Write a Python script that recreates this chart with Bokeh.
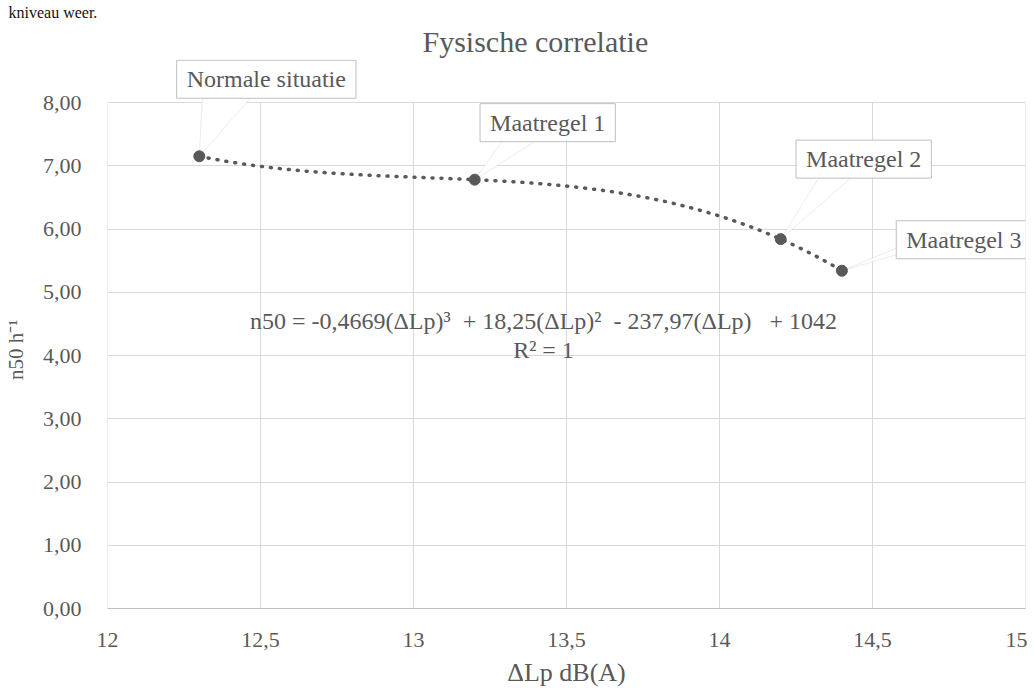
import numpy as np
from bokeh.plotting import figure
from bokeh.models import Range1d, FixedTicker, Label, PolyAnnotation, Title
from bokeh.embed import file_html
from bokeh.resources import INLINE

# ---------------- data ----------------
x_vals = [12.3, 13.2, 14.2, 14.4]
y_vals = [7.15, 6.78, 5.84, 5.34]
point_names = ["Normale situatie", "Maatregel 1", "Maatregel 2", "Maatregel 3"]

x_ticks = [12, 12.5, 13, 13.5, 14, 14.5, 15]
x_tick_labels = ["12", "12,5", "13", "13,5", "14", "14,5", "15"]
y_ticks = [0, 1, 2, 3, 4, 5, 6, 7, 8]
y_tick_labels = ["0,00", "1,00", "2,00", "3,00", "4,00", "5,00", "6,00", "7,00", "8,00"]

NB = "\u00a0"
title_text = "Fysische correlatie"
x_title = "ΔLp dB(A)"
y_title = "n50 h⁻¹"
equation_text = f"n50 = -0,4669(ΔLp)³{NB}{NB}+ 18,25(ΔLp)²{NB}{NB}- 237,97(ΔLp){NB}{NB}{NB}+ 1042"
r2_text = "R² = 1"
page_fragment = "kniveau weer."

# ---------------- styles / layout ----------------
FONT = "Liberation Serif"
GREY = "#595959"
GRID = "#d9d9d9"
X0, X1, Y0, Y1 = 12, 15, 0, 8
FW, FH_DATA = 918, 506          # pixels covered by x 12..15 and y 0..8
EXTRA_TOP = 43                  # frame room above the 8,00 line for callouts
PX_X = FW / (X1 - X0)
PX_Y = FH_DATA / (Y1 - Y0)
Y_TOP = Y1 + EXTRA_TOP / PX_Y
Y_LABEL_PAD = NB * 6            # keeps the rotated axis title centred on the 0..8 span

# callout box centre offsets (px, y downwards) and pointer base offsets
callout_center = [(67, -77), (73, -57), (83, -80), (122, -31)]
pointer_base = [((3, -58), (51, -58)), ((27, -38), (60, -38)),
                ((38, -61), (70, -61)), ((58, -24), (58, -17))]

p = figure(frame_width=FW, frame_height=FH_DATA + EXTRA_TOP,
           x_range=Range1d(X0, X1), y_range=Range1d(Y0, Y_TOP),
           output_backend="svg", toolbar_location=None, title=None,
           min_border_left=99, min_border_top=59, min_border_right=2, min_border_bottom=80,
           background_fill_color="white", border_fill_color="white")

# chart title (closest to the plot) and the cut-off document line above it
p.add_layout(Title(text=title_text, text_font=FONT, text_font_size="30px",
                   text_font_style="normal", text_color=GREY,
                   align="left", offset=315, standoff=4), "above")
p.add_layout(Title(text=page_fragment, text_font=FONT, text_font_size="16px",
                   text_font_style="normal", text_color="#111111",
                   align="left", offset=-99, standoff=0), "above")

p.outline_line_color = None
p.xgrid.grid_line_color = None
p.ygrid.grid_line_color = GRID
p.ygrid.ticker = FixedTicker(ticks=y_ticks)

# vertical gridlines limited to the 0..8 value area
p.segment(x0=x_ticks, y0=[Y0] * len(x_ticks), x1=x_ticks, y1=[Y1] * len(x_ticks),
          line_color=GRID, line_width=1)

p.xaxis.ticker = FixedTicker(ticks=x_ticks)
p.xaxis.major_label_overrides = dict(zip(x_ticks, x_tick_labels))
p.yaxis.ticker = FixedTicker(ticks=y_ticks)
p.yaxis.major_label_overrides = dict(zip(y_ticks, y_tick_labels))
p.yaxis.bounds = (Y0, Y1)

for ax in (p.xaxis[0], p.yaxis[0]):
    ax.major_tick_line_color = None
    ax.minor_tick_line_color = None
    ax.major_label_text_font = FONT
    ax.major_label_text_font_size = "22px"
    ax.major_label_text_color = GREY
    ax.axis_label_text_font = FONT
    ax.axis_label_text_font_style = "normal"
    ax.axis_label_text_color = GREY

p.xaxis.axis_label = x_title
p.yaxis.axis_label = y_title + Y_LABEL_PAD
p.xaxis.axis_label_text_font_size = "26px"
p.yaxis.axis_label_text_font_size = "21px"
p.xaxis.axis_line_color = "#bfbfbf"
p.yaxis.axis_line_color = None
p.xaxis.major_label_standoff = 18
p.xaxis.axis_label_standoff = 8
p.yaxis.major_label_standoff = 20
p.yaxis.axis_label_standoff = 12

# trendline: cubic fit through the points
coef = np.polyfit(x_vals, y_vals, 3)
xs_fit = np.linspace(min(x_vals), max(x_vals), 200)
p.line(xs_fit, np.polyval(coef, xs_fit), line_color=GREY, line_width=3.5,
       line_dash="1 8", line_cap="round")

# callout pointers
for xv, yv, (b1, b2) in zip(x_vals, y_vals, pointer_base):
    pxs = [xv, xv + b1[0] / PX_X, xv + b2[0] / PX_X]
    pys = [yv, yv - b1[1] / PX_Y, yv - b2[1] / PX_Y]
    p.add_layout(PolyAnnotation(xs=pxs, ys=pys, fill_color="white", fill_alpha=1,
                                line_color="#bfbfbf", line_width=1))

p.scatter(x_vals, y_vals, size=11, color=GREY, level="overlay")

# callout labels
for xv, yv, name, (dx, dy) in zip(x_vals, y_vals, point_names, callout_center):
    p.add_layout(Label(x=xv, y=yv, x_offset=dx, y_offset=-dy, text=name,
                       text_font=FONT, text_font_size="24px", text_color=GREY,
                       anchor="center",
                       background_fill_color="white", background_fill_alpha=1,
                       border_line_color="#bfbfbf", border_line_width=1,
                       padding=(10, 6)))

# trendline equation
p.add_layout(Label(x=X0 + 436 / PX_X, y=Y0 + 288 / PX_Y, text=equation_text,
                   text_font=FONT, text_font_size="24px", text_color=GREY,
                   text_align="center", text_baseline="middle"))
p.add_layout(Label(x=X0 + 436 / PX_X, y=Y0 + 259 / PX_Y, text=r2_text,
                   text_font=FONT, text_font_size="24px", text_color=GREY,
                   text_align="center", text_baseline="middle"))

open("out.html", "w").write(file_html(p, INLINE))
